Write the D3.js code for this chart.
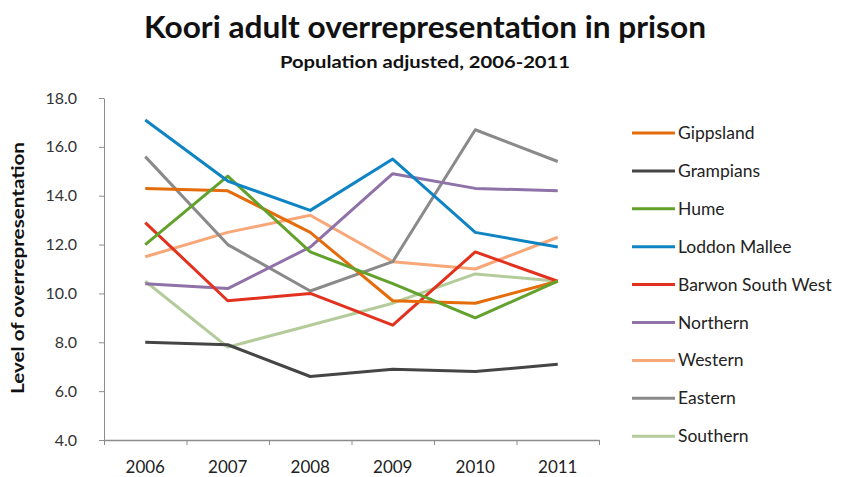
<!DOCTYPE html>
<html>
<head>
<meta charset="utf-8">
<script src="https://cdn.jsdelivr.net/npm/d3@7"></script>
<style>
  html, body { margin: 0; padding: 0; background: #fff; }
  svg { display: block; font-family: Lato, "Open Sans", sans-serif; }
</style>
</head>
<body>
<svg id="chart" width="850" height="477"></svg>
<script>
// Years along the category axis
const years = ["2006", "2007", "2008", "2009", "2010", "2011"];

// Regions, in legend order
const regions = ["Gippsland", "Grampians", "Hume", "Loddon Mallee", "Barwon South West",
                 "Northern", "Western", "Eastern", "Southern"];

// Level of overrepresentation per region, 2006-2011
const gippsland        = [14.3, 14.2, 12.5, 9.7, 9.6, 10.5];
const grampians        = [8.0, 7.9, 6.6, 6.9, 6.8, 7.1];
const hume             = [12.0, 14.8, 11.7, 10.4, 9.0, 10.5];
const loddonMallee     = [17.1, 14.6, 13.4, 15.5, 12.5, 11.9];
const barwonSouthWest  = [12.9, 9.7, 10.0, 8.7, 11.7, 10.5];
const northern         = [10.4, 10.2, 11.9, 14.9, 14.3, 14.2];
const western          = [11.5, 12.5, 13.2, 11.3, 11.0, 12.3];
const eastern          = [15.6, 12.0, 10.1, 11.3, 16.7, 15.4];
const southern         = [10.5, 7.8, 8.7, 9.6, 10.8, 10.5];

const seriesValues = [gippsland, grampians, hume, loddonMallee, barwonSouthWest,
                      northern, western, eastern, southern];

const colors = ["#E46C0A", "#454545", "#62A12C", "#0F84C4", "#E2321F",
                "#8E72A8", "#F8A878", "#8A8A8A", "#B4CC9C"];

// Y-axis tick labels
const yTicks = [4, 6, 8, 10, 12, 14, 16, 18];

const svg = d3.select("#chart");

const plot = { left: 104, right: 599, top: 98, bottom: 440 };

const x = d3.scaleBand().domain(years).range([plot.left, plot.right]);
const y = d3.scaleLinear().domain([4, 18]).range([plot.bottom, plot.top]);

// Titles
svg.append("text")
  .attr("x", 425).attr("y", 38)
  .attr("text-anchor", "middle")
  .attr("font-size", 30).attr("font-weight", "bold").attr("fill", "#111")
  .attr("textLength", 562).attr("lengthAdjust", "spacingAndGlyphs")
  .text("Koori adult overrepresentation in prison");

svg.append("text")
  .attr("x", 425).attr("y", 68)
  .attr("text-anchor", "middle")
  .attr("font-size", 17.5).attr("font-weight", "bold").attr("fill", "#111")
  .attr("textLength", 290).attr("lengthAdjust", "spacingAndGlyphs")
  .text("Population adjusted, 2006-2011");

// Y axis
const yAxis = svg.append("g")
  .attr("transform", `translate(${plot.left},0)`)
  .call(d3.axisLeft(y).tickValues(yTicks).tickFormat(d3.format(".1f")).tickSize(5).tickSizeOuter(0).tickPadding(22));
yAxis.select(".domain").attr("stroke", "#8c8c8c");
yAxis.selectAll(".tick line").attr("stroke", "#8c8c8c");
yAxis.selectAll(".tick text").attr("font-size", 16).attr("fill", "#333").attr("font-family", "Lato, sans-serif");

// X axis: labels centred on categories, tick marks between them
const xAxis = svg.append("g")
  .attr("transform", `translate(0,${plot.bottom})`)
  .call(d3.axisBottom(x).tickSize(0).tickPadding(21));
xAxis.select(".domain").attr("stroke", "#8c8c8c").attr("stroke-width", 1.5);
xAxis.selectAll(".tick text").attr("font-size", 17).attr("fill", "#222").attr("font-family", "Lato, sans-serif");

const boundary = d3.scaleLinear().domain([0, years.length]).range([plot.left, plot.right]);
const xTickMarks = svg.append("g")
  .attr("transform", `translate(0,${plot.bottom})`)
  .call(d3.axisBottom(boundary).tickValues(d3.range(0, years.length + 1)).tickFormat("").tickSize(5).tickSizeOuter(0));
xTickMarks.select(".domain").remove();
xTickMarks.selectAll(".tick line").attr("stroke", "#8c8c8c");

// Y axis title
svg.append("text")
  .attr("transform", "translate(24,268) rotate(-90)")
  .attr("text-anchor", "middle")
  .attr("font-size", 16.5).attr("font-weight", "bold").attr("fill", "#111")
  .attr("textLength", 252).attr("lengthAdjust", "spacingAndGlyphs")
  .text("Level of overrepresentation");

// Lines
const line = d3.line()
  .x((d, i) => x(years[i]) + x.bandwidth() / 2)
  .y(d => y(d));

const drawOrder = [8, 6, 7, 5, 1, 4, 0, 2, 3];
svg.append("g").selectAll("path")
  .data(drawOrder)
  .join("path")
  .attr("d", k => line(seriesValues[k]))
  .attr("fill", "none")
  .attr("stroke", k => colors[k])
  .attr("stroke-width", 3)
  .attr("stroke-linejoin", "round");

// Legend
const legend = svg.append("g").attr("transform", "translate(632,133)");
const rows = legend.selectAll("g")
  .data(regions)
  .join("g")
  .attr("transform", (d, i) => `translate(0,${i * 37.9})`);
rows.append("line")
  .attr("x1", 0).attr("x2", 43).attr("y1", 0).attr("y2", 0)
  .attr("stroke", (d, i) => colors[i]).attr("stroke-width", 3);
rows.append("text")
  .attr("x", 46).attr("y", 6)
  .attr("font-size", 17.5).attr("fill", "#222")
  .text(d => d);
</script>
</body>
</html>
